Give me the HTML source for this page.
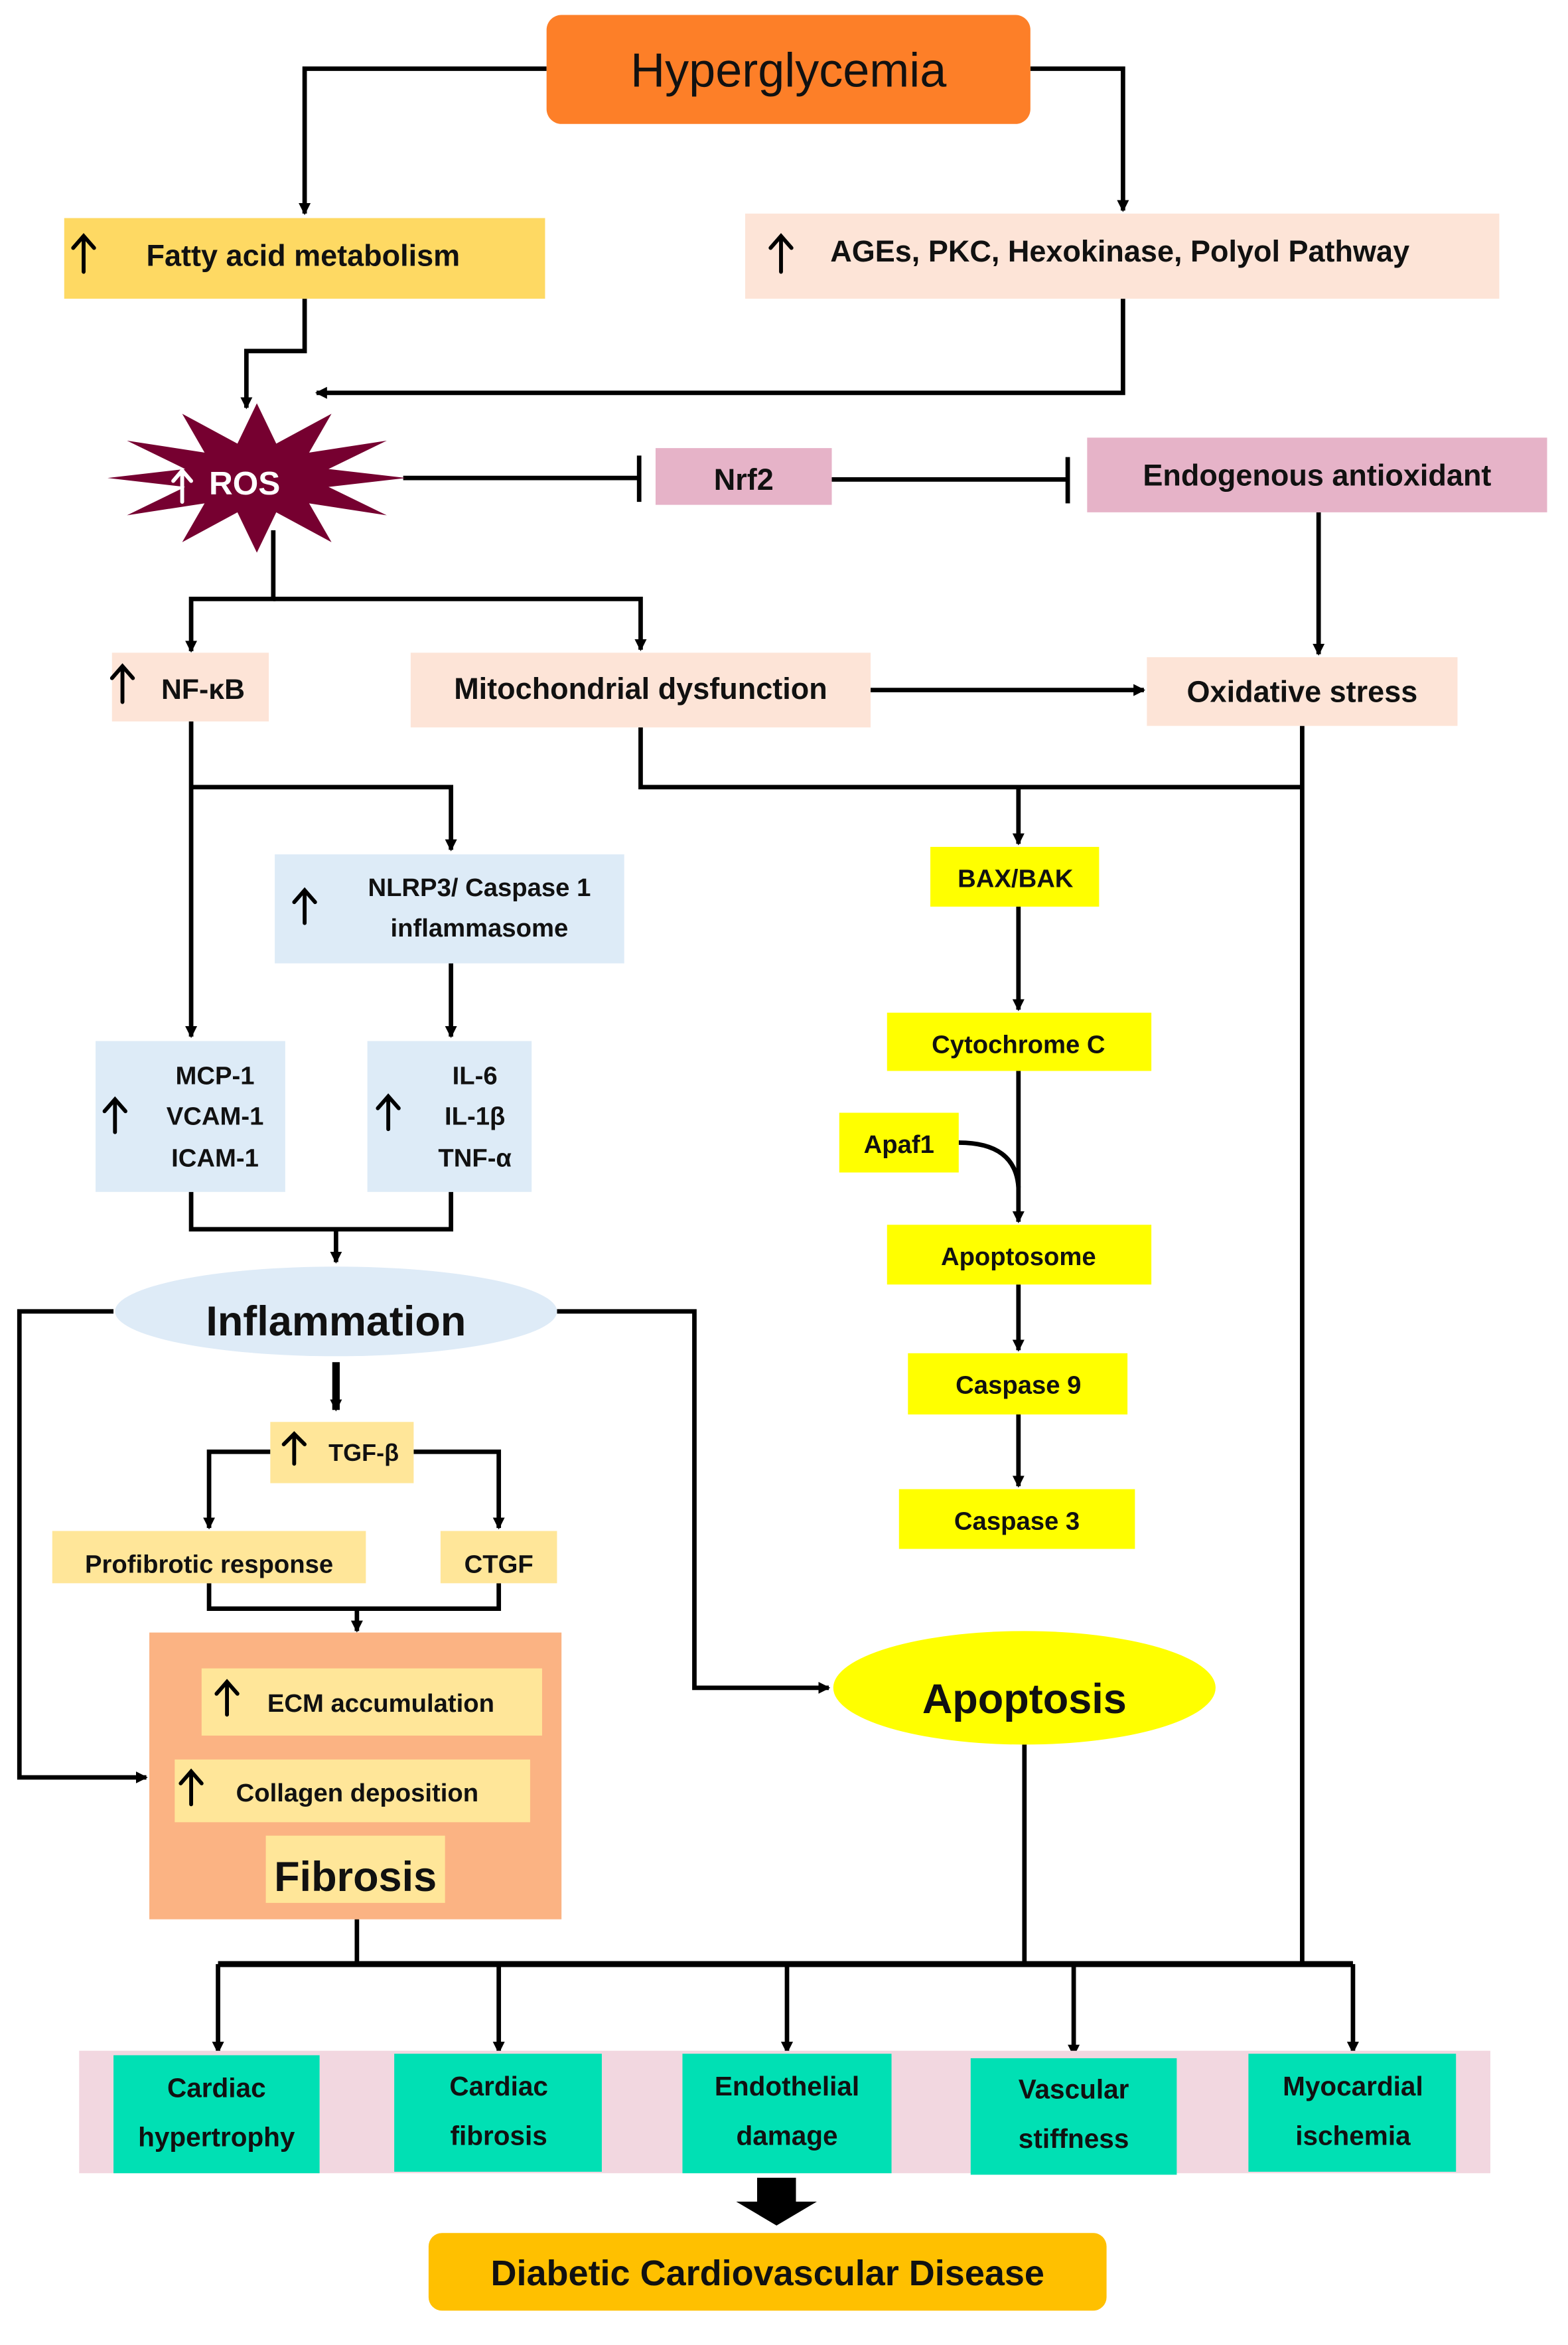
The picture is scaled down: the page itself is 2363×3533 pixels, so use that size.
<!DOCTYPE html>
<html><head><meta charset="utf-8"><style>html,body{margin:0;padding:0;background:#fff}svg{display:block}text{font-family:"Liberation Sans",sans-serif;font-weight:bold;fill:#111}</style></head>
<body>
<svg width="2363" height="3533" viewBox="0 0 1050 1570" preserveAspectRatio="none" xmlns="http://www.w3.org/2000/svg">
<defs>
<marker id="a" markerWidth="8" markerHeight="8" refX="7" refY="4" orient="auto" markerUnits="userSpaceOnUse"><path d="M0,0 L8,4 L0,8 z" fill="#000"/></marker>
</defs>
<g stroke="#000" stroke-width="3" fill="none">
<polyline points="366,46 204,46 204,143" marker-end="url(#a)"/>
<polyline points="690,46 752,46 752,141" marker-end="url(#a)"/>
<polyline points="204,200 204,235 165,235 165,273" marker-end="url(#a)"/>
<polyline points="752,200 752,263 212,263" marker-end="url(#a)"/>
<line x1="270" y1="320" x2="428" y2="320"/><line x1="428" y1="305" x2="428" y2="336"/>
<line x1="557" y1="321" x2="715" y2="321"/><line x1="715" y1="306" x2="715" y2="337"/>
<polyline points="183,355 183,401 128,401 128,436" marker-end="url(#a)"/>
<polyline points="183,401 429,401 429,435" marker-end="url(#a)"/>
<line x1="883" y1="343" x2="883" y2="438" marker-end="url(#a)"/>
<line x1="583" y1="462" x2="766" y2="462" marker-end="url(#a)"/>
<polyline points="429,487 429,527 872,527"/>
<line x1="872" y1="486" x2="872" y2="1315"/>
<line x1="682" y1="527" x2="682" y2="565" marker-end="url(#a)"/>
<line x1="128" y1="483" x2="128" y2="694" marker-end="url(#a)"/>
<polyline points="128,527 302,527 302,569" marker-end="url(#a)"/>
<line x1="302" y1="645" x2="302" y2="694" marker-end="url(#a)"/>
<polyline points="128,798 128,823 302,823 302,798"/>
<line x1="225" y1="823" x2="225" y2="845" marker-end="url(#a)"/>
<polyline points="76,878 13,878 13,1190 98,1190" marker-end="url(#a)"/>
<polyline points="373,878 465,878 465,1130 555,1130" marker-end="url(#a)"/>
<line x1="225" y1="912" x2="225" y2="944" stroke-width="5" marker-end="url(#a)"/>
<polyline points="181,972 140,972 140,1023" marker-end="url(#a)"/>
<polyline points="277,972 334,972 334,1023" marker-end="url(#a)"/>
<polyline points="140,1060 140,1077 334,1077 334,1060"/>
<line x1="239" y1="1077" x2="239" y2="1092" marker-end="url(#a)"/>
<line x1="239" y1="1285" x2="239" y2="1315"/>
<line x1="686" y1="1168" x2="686" y2="1315"/>
<line x1="146" y1="1315" x2="906" y2="1315" stroke-width="4"/>
<line x1="146" y1="1315" x2="146" y2="1374" marker-end="url(#a)"/>
<line x1="334" y1="1315" x2="334" y2="1374" marker-end="url(#a)"/>
<line x1="527" y1="1315" x2="527" y2="1374" marker-end="url(#a)"/>
<line x1="719" y1="1315" x2="719" y2="1376" marker-end="url(#a)"/>
<line x1="906" y1="1315" x2="906" y2="1374" marker-end="url(#a)"/>
<line x1="682" y1="607" x2="682" y2="676" marker-end="url(#a)"/>
<line x1="682" y1="717" x2="682" y2="818" marker-end="url(#a)"/>
<path d="M642,765 Q680,765 682,795"/>
<line x1="682" y1="860" x2="682" y2="904" marker-end="url(#a)"/>
<line x1="682" y1="947" x2="682" y2="995" marker-end="url(#a)"/>
</g>
<rect x="366" y="10" width="324" height="73" rx="10" fill="#fd7f28"/>
<text x="528" y="58" font-size="32" text-anchor="middle" style="font-weight:normal">Hyperglycemia</text>
<rect x="43" y="146" width="322" height="54" fill="#fed963"/>
<text x="98" y="178" font-size="20">Fatty acid metabolism</text>
<rect x="499" y="143" width="505" height="57" fill="#fde4d7"/>
<text x="556" y="175" font-size="20">AGEs, PKC, Hexokinase, Polyol Pathway</text>
<polygon points="272,320 220,326 259,345 207,337 222,363 185,343 172,370 159,343 122,363 137,337 85,345 124,326 72,320 124,314 85,295 137,303 122,277 159,297 172,270 185,297 222,277 207,303 259,295 220,314" fill="#760030"/>
<text x="140" y="331" font-size="22" style="fill:#fff">ROS</text>
<rect x="439" y="300" width="118" height="38" fill="#e6b3c8"/>
<text x="498" y="328" font-size="20" text-anchor="middle">Nrf2</text>
<rect x="728" y="293" width="308" height="50" fill="#e6b3c8"/>
<text x="882" y="325" font-size="20" text-anchor="middle">Endogenous antioxidant</text>
<rect x="75" y="437" width="105" height="46" fill="#fde4d7"/>
<text x="108" y="468" font-size="19">NF-κB</text>
<rect x="275" y="437" width="308" height="50" fill="#fde4d7"/>
<text x="429" y="468" font-size="20" text-anchor="middle">Mitochondrial dysfunction</text>
<rect x="768" y="440" width="208" height="46" fill="#fde4d7"/>
<text x="872" y="470" font-size="20" text-anchor="middle">Oxidative stress</text>
<rect x="184" y="572" width="234" height="73" fill="#ddebf7"/>
<text x="321" y="600" font-size="17" text-anchor="middle">NLRP3/ Caspase 1</text>
<text x="321" y="627" font-size="17" text-anchor="middle">inflammasome</text>
<rect x="64" y="697" width="127" height="101" fill="#ddebf7"/>
<text x="144" y="726" font-size="17" text-anchor="middle">MCP-1</text>
<text x="144" y="753" font-size="17" text-anchor="middle">VCAM-1</text>
<text x="144" y="781" font-size="17" text-anchor="middle">ICAM-1</text>
<rect x="246" y="697" width="110" height="101" fill="#ddebf7"/>
<text x="318" y="726" font-size="17" text-anchor="middle">IL-6</text>
<text x="318" y="753" font-size="17" text-anchor="middle">IL-1β</text>
<text x="318" y="781" font-size="17" text-anchor="middle">TNF-α</text>
<ellipse cx="225" cy="878" rx="148" ry="30" fill="#deebf7"/>
<text x="225" y="894" font-size="28" text-anchor="middle">Inflammation</text>
<rect x="181" y="952" width="96" height="41" fill="#ffe699"/>
<text x="220" y="978" font-size="16">TGF-β</text>
<rect x="35" y="1025" width="210" height="35" fill="#ffe699"/>
<text x="140" y="1053" font-size="17" text-anchor="middle">Profibrotic response</text>
<rect x="295" y="1025" width="78" height="35" fill="#ffe699"/>
<text x="334" y="1053" font-size="17" text-anchor="middle">CTGF</text>
<rect x="100" y="1093" width="276" height="192" fill="#fbb383"/>
<rect x="135" y="1117" width="228" height="45" fill="#ffe699"/>
<text x="179" y="1146" font-size="17">ECM accumulation</text>
<rect x="117" y="1178" width="238" height="42" fill="#ffe699"/>
<text x="158" y="1206" font-size="17">Collagen deposition</text>
<rect x="178" y="1229" width="120" height="45" fill="#ffe699"/>
<text x="238" y="1266" font-size="28" text-anchor="middle">Fibrosis</text>
<!-- up arrows -->
<g stroke="#000" stroke-width="2.6" fill="none" stroke-linecap="round">
<path d="M56,182 V158 M49,166 L56,158 L63,166"/>
<path d="M523,182 V158 M516,166 L523,158 L530,166"/>
<path d="M82,470 V446 M75,454 L82,446 L89,454"/>
<path d="M204,618 V596 M197,604 L204,596 L211,604"/>
<path d="M77,758 V736 M70,744 L77,736 L84,744"/>
<path d="M260,756 V734 M253,742 L260,734 L267,742"/>
<path d="M197,980 V960 M190,967 L197,960 L204,967"/>
<path d="M152,1148 V1126 M145,1134 L152,1126 L159,1134"/>
<path d="M128,1208 V1186 M121,1194 L128,1186 L135,1194"/>
</g>
<path d="M122,336 V315 M116,322 L122,315 L128,322" stroke="#fff" stroke-width="2.6" fill="none" stroke-linecap="round"/>
<rect x="623" y="567" width="113" height="40" fill="#ffff00"/>
<text x="680" y="594" font-size="17" text-anchor="middle">BAX/BAK</text>
<rect x="594" y="678" width="177" height="39" fill="#ffff00"/>
<text x="682" y="705" font-size="17" text-anchor="middle">Cytochrome C</text>
<rect x="562" y="745" width="80" height="40" fill="#ffff00"/>
<text x="602" y="772" font-size="17" text-anchor="middle">Apaf1</text>
<rect x="594" y="820" width="177" height="40" fill="#ffff00"/>
<text x="682" y="847" font-size="17" text-anchor="middle">Apoptosome</text>
<rect x="608" y="906" width="147" height="41" fill="#ffff00"/>
<text x="682" y="933" font-size="17" text-anchor="middle">Caspase 9</text>
<rect x="602" y="997" width="158" height="40" fill="#ffff00"/>
<text x="681" y="1024" font-size="17" text-anchor="middle">Caspase 3</text>
<ellipse cx="686" cy="1130" rx="128" ry="38" fill="#ffff00"/>
<text x="686" y="1147" font-size="28" text-anchor="middle">Apoptosis</text>
<rect x="53" y="1373" width="945" height="82" fill="#f2d7e0"/>
<g fill="#00e0b4">
<rect x="76" y="1376" width="138" height="79"/><rect x="264" y="1375" width="139" height="79"/><rect x="457" y="1375" width="140" height="80"/><rect x="650" y="1378" width="138" height="78"/><rect x="836" y="1375" width="139" height="79"/>
</g>
<g font-size="18" text-anchor="middle">
<text x="145" y="1404">Cardiac</text><text x="145" y="1437">hypertrophy</text>
<text x="334" y="1403">Cardiac</text><text x="334" y="1436">fibrosis</text>
<text x="527" y="1403">Endothelial</text><text x="527" y="1436">damage</text>
<text x="719" y="1405">Vascular</text><text x="719" y="1438">stiffness</text>
<text x="906" y="1403">Myocardial</text><text x="906" y="1436">ischemia</text>
</g>
<polygon points="507,1458 533,1458 533,1474 547,1474 520,1490 493,1474 507,1474" fill="#000"/>
<rect x="287" y="1495" width="454" height="52" rx="9" fill="#ffc000"/>
<text x="514" y="1530" font-size="24" text-anchor="middle">Diabetic Cardiovascular Disease</text>
</svg>
</body></html>
